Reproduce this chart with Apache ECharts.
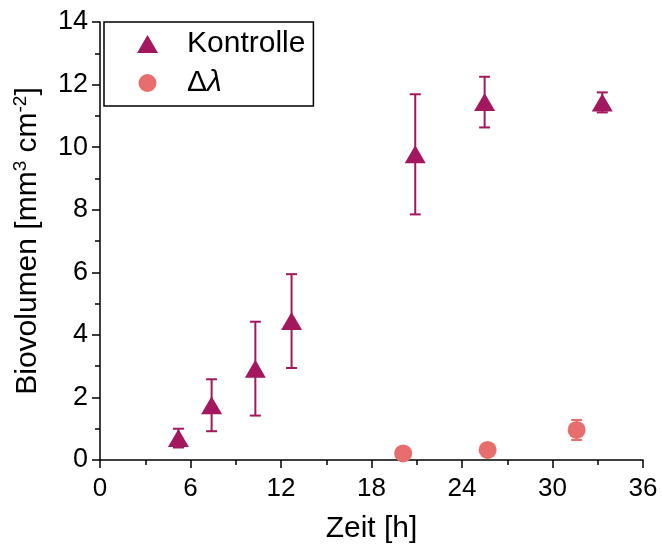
<!DOCTYPE html>
<html>
<head>
<meta charset="utf-8">
<script src="https://cdn.jsdelivr.net/npm/echarts@6/dist/echarts.min.js"></script>
<style>
  html, body { margin: 0; padding: 0; background: #fff; }
  #main { width: 662px; height: 555px; }
</style>
</head>
<body>
<div id="main"></div>
<script>
// Kontrolle
const ctrlTime = [5.2, 7.4, 10.3, 12.7, 20.9, 25.5, 33.3];
const ctrlValue = [0.70, 1.75, 2.92, 4.44, 9.77, 11.44, 11.43];
const ctrlErr = [0.30, 0.83, 1.50, 1.50, 1.92, 0.81, 0.32];

// Δλ
const mutTime = [20.1, 25.7, 31.6];
const mutValue = [0.21, 0.32, 0.96];
const mutErr = [0.05, 0.05, 0.32];

const xTicks = [0, 6, 12, 18, 24, 30, 36];
const yTicks = [0, 2, 4, 6, 8, 10, 12, 14];

const ctrlColor = "#a3175f";
const mutColor = "#e86d6d";
const font = "Liberation Sans, Arial, sans-serif";

const toPoints = (xs, ys, es) => xs.map((x, i) => [x, ys[i], ys[i] - es[i], ys[i] + es[i]]);

// Fehlerbalken
const errorBar = (color) => (params, api) => {
  const x = api.value(0);
  const lo = api.coord([x, api.value(2)]);
  const hi = api.coord([x, api.value(3)]);
  const half = 5.5;
  const style = { stroke: color, lineWidth: 2, fill: null };
  return {
    type: "group",
    children: [
      { type: "line", shape: { x1: lo[0], y1: lo[1], x2: hi[0], y2: hi[1] }, style },
      { type: "line", shape: { x1: lo[0] - half, y1: lo[1], x2: lo[0] + half, y2: lo[1] }, style },
      { type: "line", shape: { x1: hi[0] - half, y1: hi[1], x2: hi[0] + half, y2: hi[1] }, style },
    ],
  };
};

const chart = echarts.init(document.getElementById("main"));

const option = {
  animation: false,
  grid: { left: 100, right: 19, top: 22, bottom: 95 },
  legend: {
    left: 104,
    top: 22,
    orient: "vertical",
    borderColor: "#000",
    borderWidth: 1.5,
    borderRadius: 0,
    padding: [7, 8, 8, 33],
    itemGap: 9,
    itemWidth: 21,
    itemHeight: 18,
    textStyle: {
      fontFamily: font, fontSize: 30, color: "#000", padding: [0, 0, 0, 24],
      rich: { i: { fontFamily: font, fontSize: 30, color: "#000", fontStyle: "italic" } },
    },
    data: [
      { name: "Kontrolle", icon: "triangle", itemStyle: { color: ctrlColor } },
      { name: "Δλ", icon: "circle", itemStyle: { color: mutColor } },
    ],
    formatter: (name) => (name === "Δλ" ? "Δ{i|λ}" : name),
    selectedMode: false,
  },
  xAxis: {
    type: "value",
    min: 0,
    max: 36,
    interval: 6,
    name: "Zeit [h]",
    nameLocation: "middle",
    nameGap: 54,
    nameTextStyle: { fontFamily: font, fontSize: 30, color: "#000" },
    axisLine: { show: true, lineStyle: { color: "#000", width: 1.5 } },
    axisTick: { show: true, length: 8, lineStyle: { color: "#000", width: 1.5 } },
    minorTick: { show: true, splitNumber: 2, length: 5, lineStyle: { color: "#000", width: 1.5 } },
    axisLabel: {
      fontFamily: font, fontSize: 26, color: "#000", margin: 16,
      formatter: (v) => (xTicks.includes(v) ? String(v) : ""),
    },
    splitLine: { show: false },
  },
  yAxis: {
    type: "value",
    min: 0,
    max: 14,
    interval: 2,
    name: "{a|Biovolumen [mm}{s|3}{a| cm}{s|-2}{a|]}",
    nameLocation: "middle",
    nameGap: 55,
    nameTextStyle: {
      rich: {
        a: { fontFamily: font, fontSize: 30, color: "#000", lineHeight: 34 },
        s: { fontFamily: font, fontSize: 19, color: "#000", lineHeight: 34, verticalAlign: "top", padding: [0, 0, 13, 0] },
      },
    },
    axisLine: { show: true, lineStyle: { color: "#000", width: 1.5 } },
    axisTick: { show: true, length: 8, lineStyle: { color: "#000", width: 1.5 } },
    minorTick: { show: true, splitNumber: 2, length: 5, lineStyle: { color: "#000", width: 1.5 } },
    axisLabel: {
      fontFamily: font, fontSize: 27, color: "#000", margin: 12,
      formatter: (v) => (yTicks.includes(v) ? String(v) : ""),
    },
    splitLine: { show: false },
  },
  series: [
    {
      name: "Kontrolle",
      type: "custom",
      renderItem: errorBar(ctrlColor),
      itemStyle: { color: ctrlColor },
      encode: { x: 0, y: [2, 3] },
      data: toPoints(ctrlTime, ctrlValue, ctrlErr),
      z: 2,
      silent: true,
    },
    {
      name: "Δλ",
      type: "custom",
      renderItem: errorBar(mutColor),
      itemStyle: { color: mutColor },
      encode: { x: 0, y: [2, 3] },
      data: toPoints(mutTime, mutValue, mutErr),
      z: 2,
      silent: true,
    },
    {
      name: "Kontrolle",
      type: "scatter",
      symbol: "triangle",
      symbolSize: [21, 18],
      itemStyle: { color: ctrlColor, opacity: 1 },
      data: ctrlTime.map((x, i) => [x, ctrlValue[i]]),
      z: 3,
    },
    {
      name: "Δλ",
      type: "scatter",
      symbol: "circle",
      symbolSize: 18,
      itemStyle: { color: mutColor, opacity: 1 },
      data: mutTime.map((x, i) => [x, mutValue[i]]),
      z: 3,
    },
  ],
};

chart.setOption(option);
</script>
</body>
</html>
